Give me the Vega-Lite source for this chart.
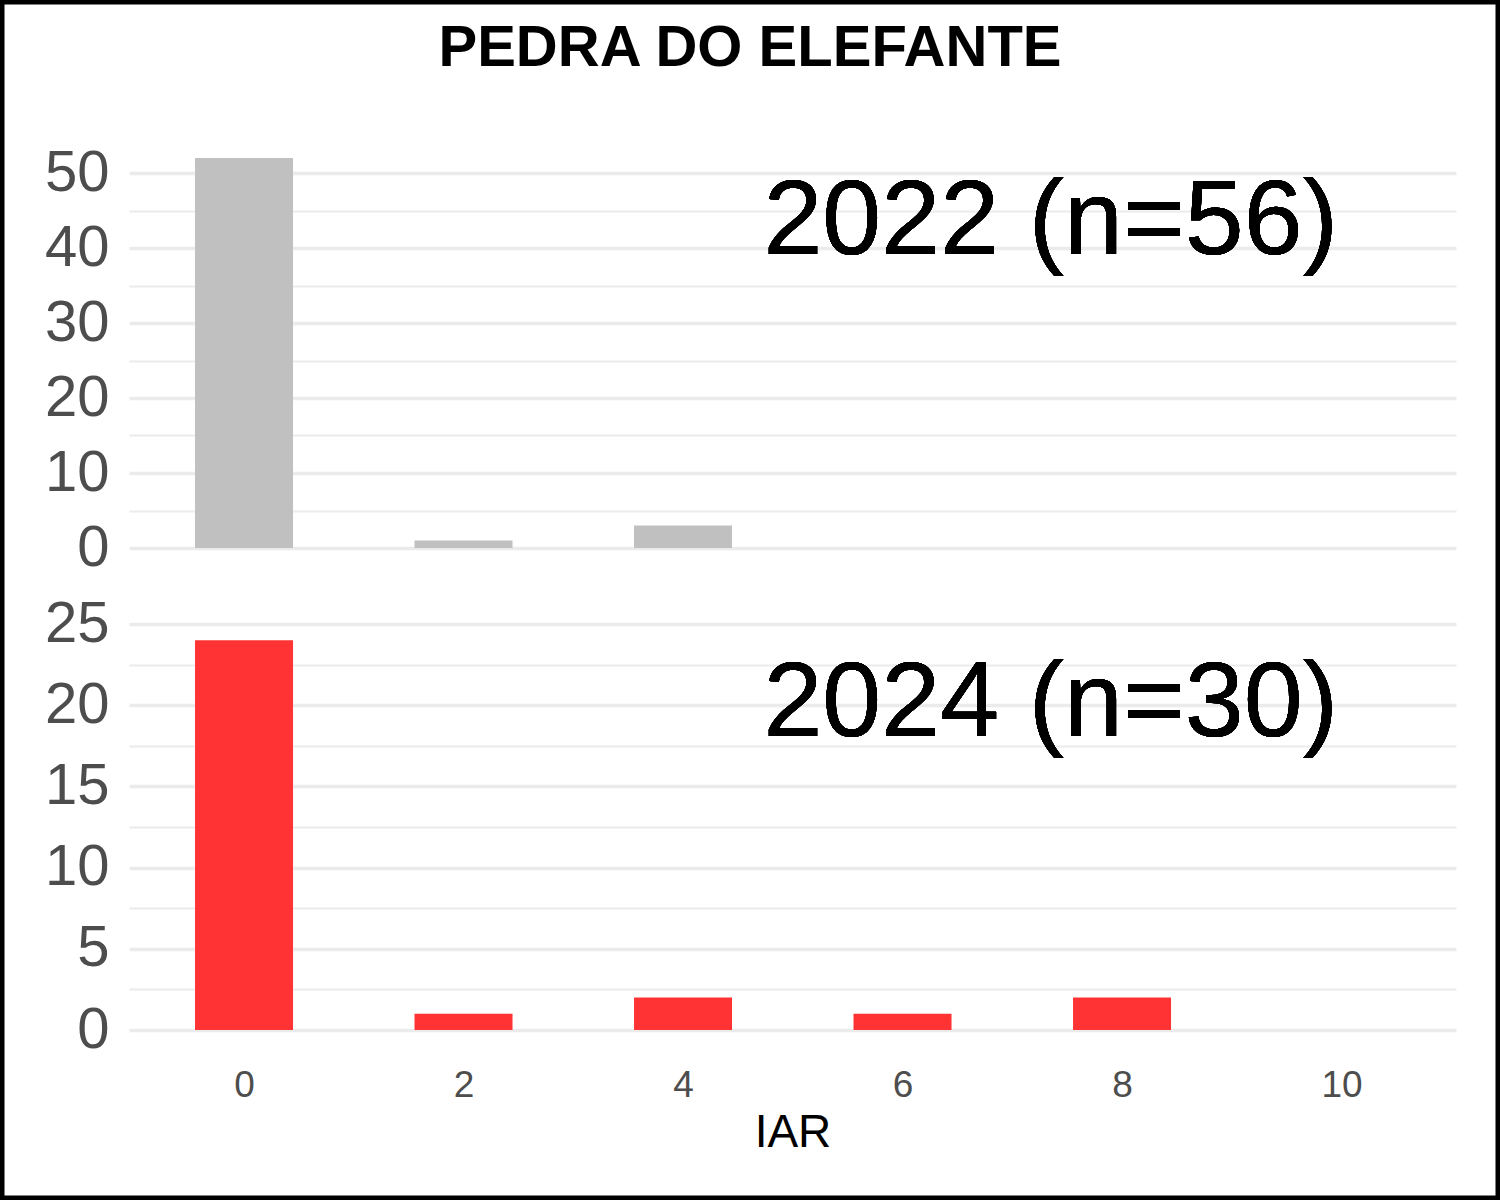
{
  "$schema": "https://vega.github.io/schema/vega-lite/v6.json",
  "width": 1500,
  "height": 1200,
  "autosize": {"type": "none"},
  "padding": 0,
  "background": "white",
  "title": {
    "text": "PEDRA DO ELEFANTE",
    "font": "Liberation Sans",
    "fontSize": 58,
    "fontWeight": "bold",
    "color": "black",
    "anchor": "middle",
    "frame": "group",
    "baseline": "alphabetic",
    "offset": -124
  },
  "data": {
    "values": [
      {"year": "2022", "IAR": 0, "count": 52},
      {"year": "2022", "IAR": 2, "count": 1},
      {"year": "2022", "IAR": 4, "count": 3},
      {"year": "2024", "IAR": 0, "count": 24},
      {"year": "2024", "IAR": 2, "count": 1},
      {"year": "2024", "IAR": 4, "count": 2},
      {"year": "2024", "IAR": 6, "count": 1},
      {"year": "2024", "IAR": 8, "count": 2}
    ]
  },
  "layer": [
    {
      "layer": [
        {
          "transform": [{"filter": "datum.year === '2022'"}],
          "mark": {"type": "bar", "width": 98, "color": "#C0C0C0"},
          "encoding": {
            "x": {
              "field": "IAR",
              "type": "quantitative",
              "scale": {"domain": [-1.048, 11.043], "range": [129, 1456], "nice": false, "zero": false, "padding": 0},
              "axis": {
                "orient": "bottom",
                "offset": -150.5,
                "values": [0, 2, 4, 6, 8, 10],
                "format": "d",
                "grid": false,
                "domain": false,
                "ticks": false,
                "labelFont": "Liberation Sans",
                "labelFontSize": 37,
                "labelColor": "#4D4D4D",
                "labelPadding": 18,
                "labelFlush": false,
                "labelOverlap": false,
                "title": "IAR",
                "titleFont": "Liberation Sans",
                "titleFontSize": 46,
                "titleFontWeight": "normal",
                "titleColor": "black",
                "titlePadding": 7
              }
            },
            "y": {
              "field": "count",
              "type": "quantitative",
              "stack": null,
              "scale": {"domain": [0, 50], "range": [548, 173], "nice": false},
              "axis": {
                "orient": "left",
                "offset": -129,
                "values": [0, 5, 10, 15, 20, 25, 30, 35, 40, 45, 50],
                "labelExpr": "datum.value % 10 === 0 ? datum.label : ''",
                "grid": true,
                "gridColor": "#EBEBEB",
                "gridWidth": {"condition": {"test": "datum.value % 10 === 0", "value": 3.5}, "value": 1.8},
                "domain": false,
                "ticks": false,
                "labelFont": "Liberation Sans",
                "labelFontSize": 58,
                "labelColor": "#4D4D4D",
                "labelPadding": 20,
                "labelFlush": false,
                "labelOverlap": false,
                "labelBound": false,
                "title": null
              }
            }
          }
        },
        {
          "mark": {"type": "text", "font": "Liberation Sans", "fontSize": 106, "color": "black", "align": "center", "baseline": "alphabetic", "text": "2022 (n=56)"},
          "encoding": {
            "x": {"datum": 7.35, "type": "quantitative"},
            "y": {"datum": 39.2, "type": "quantitative"}
          }
        }
      ]
    },
    {
      "layer": [
        {
          "transform": [{"filter": "datum.year === '2024'"}],
          "mark": {"type": "bar", "width": 98, "color": "#FF3333"},
          "encoding": {
            "x": {"field": "IAR", "type": "quantitative"},
            "y": {
              "field": "count",
              "type": "quantitative",
              "stack": null,
              "scale": {"domain": [0, 25], "range": [1030, 624], "nice": false},
              "axis": {
                "orient": "left",
                "offset": -129,
                "values": [0, 2.5, 5, 7.5, 10, 12.5, 15, 17.5, 20, 22.5, 25],
                "labelExpr": "datum.value % 5 === 0 ? datum.label : ''",
                "grid": true,
                "gridColor": "#EBEBEB",
                "gridWidth": {"condition": {"test": "datum.value % 5 === 0", "value": 3.5}, "value": 1.8},
                "domain": false,
                "ticks": false,
                "labelFont": "Liberation Sans",
                "labelFontSize": 58,
                "labelColor": "#4D4D4D",
                "labelPadding": 20,
                "labelFlush": false,
                "labelOverlap": false,
                "labelBound": false,
                "title": null
              }
            }
          }
        },
        {
          "mark": {"type": "text", "font": "Liberation Sans", "fontSize": 106, "color": "black", "align": "center", "baseline": "alphabetic", "text": "2024 (n=30)"},
          "encoding": {
            "x": {"datum": 7.35, "type": "quantitative"},
            "y": {"datum": 18.1, "type": "quantitative"}
          }
        }
      ]
    }
  ],
  "resolve": {"scale": {"y": "independent"}, "axis": {"y": "independent"}},
  "config": {
    "view": {"stroke": "black", "strokeWidth": 9, "fill": "white"}
  }
}
